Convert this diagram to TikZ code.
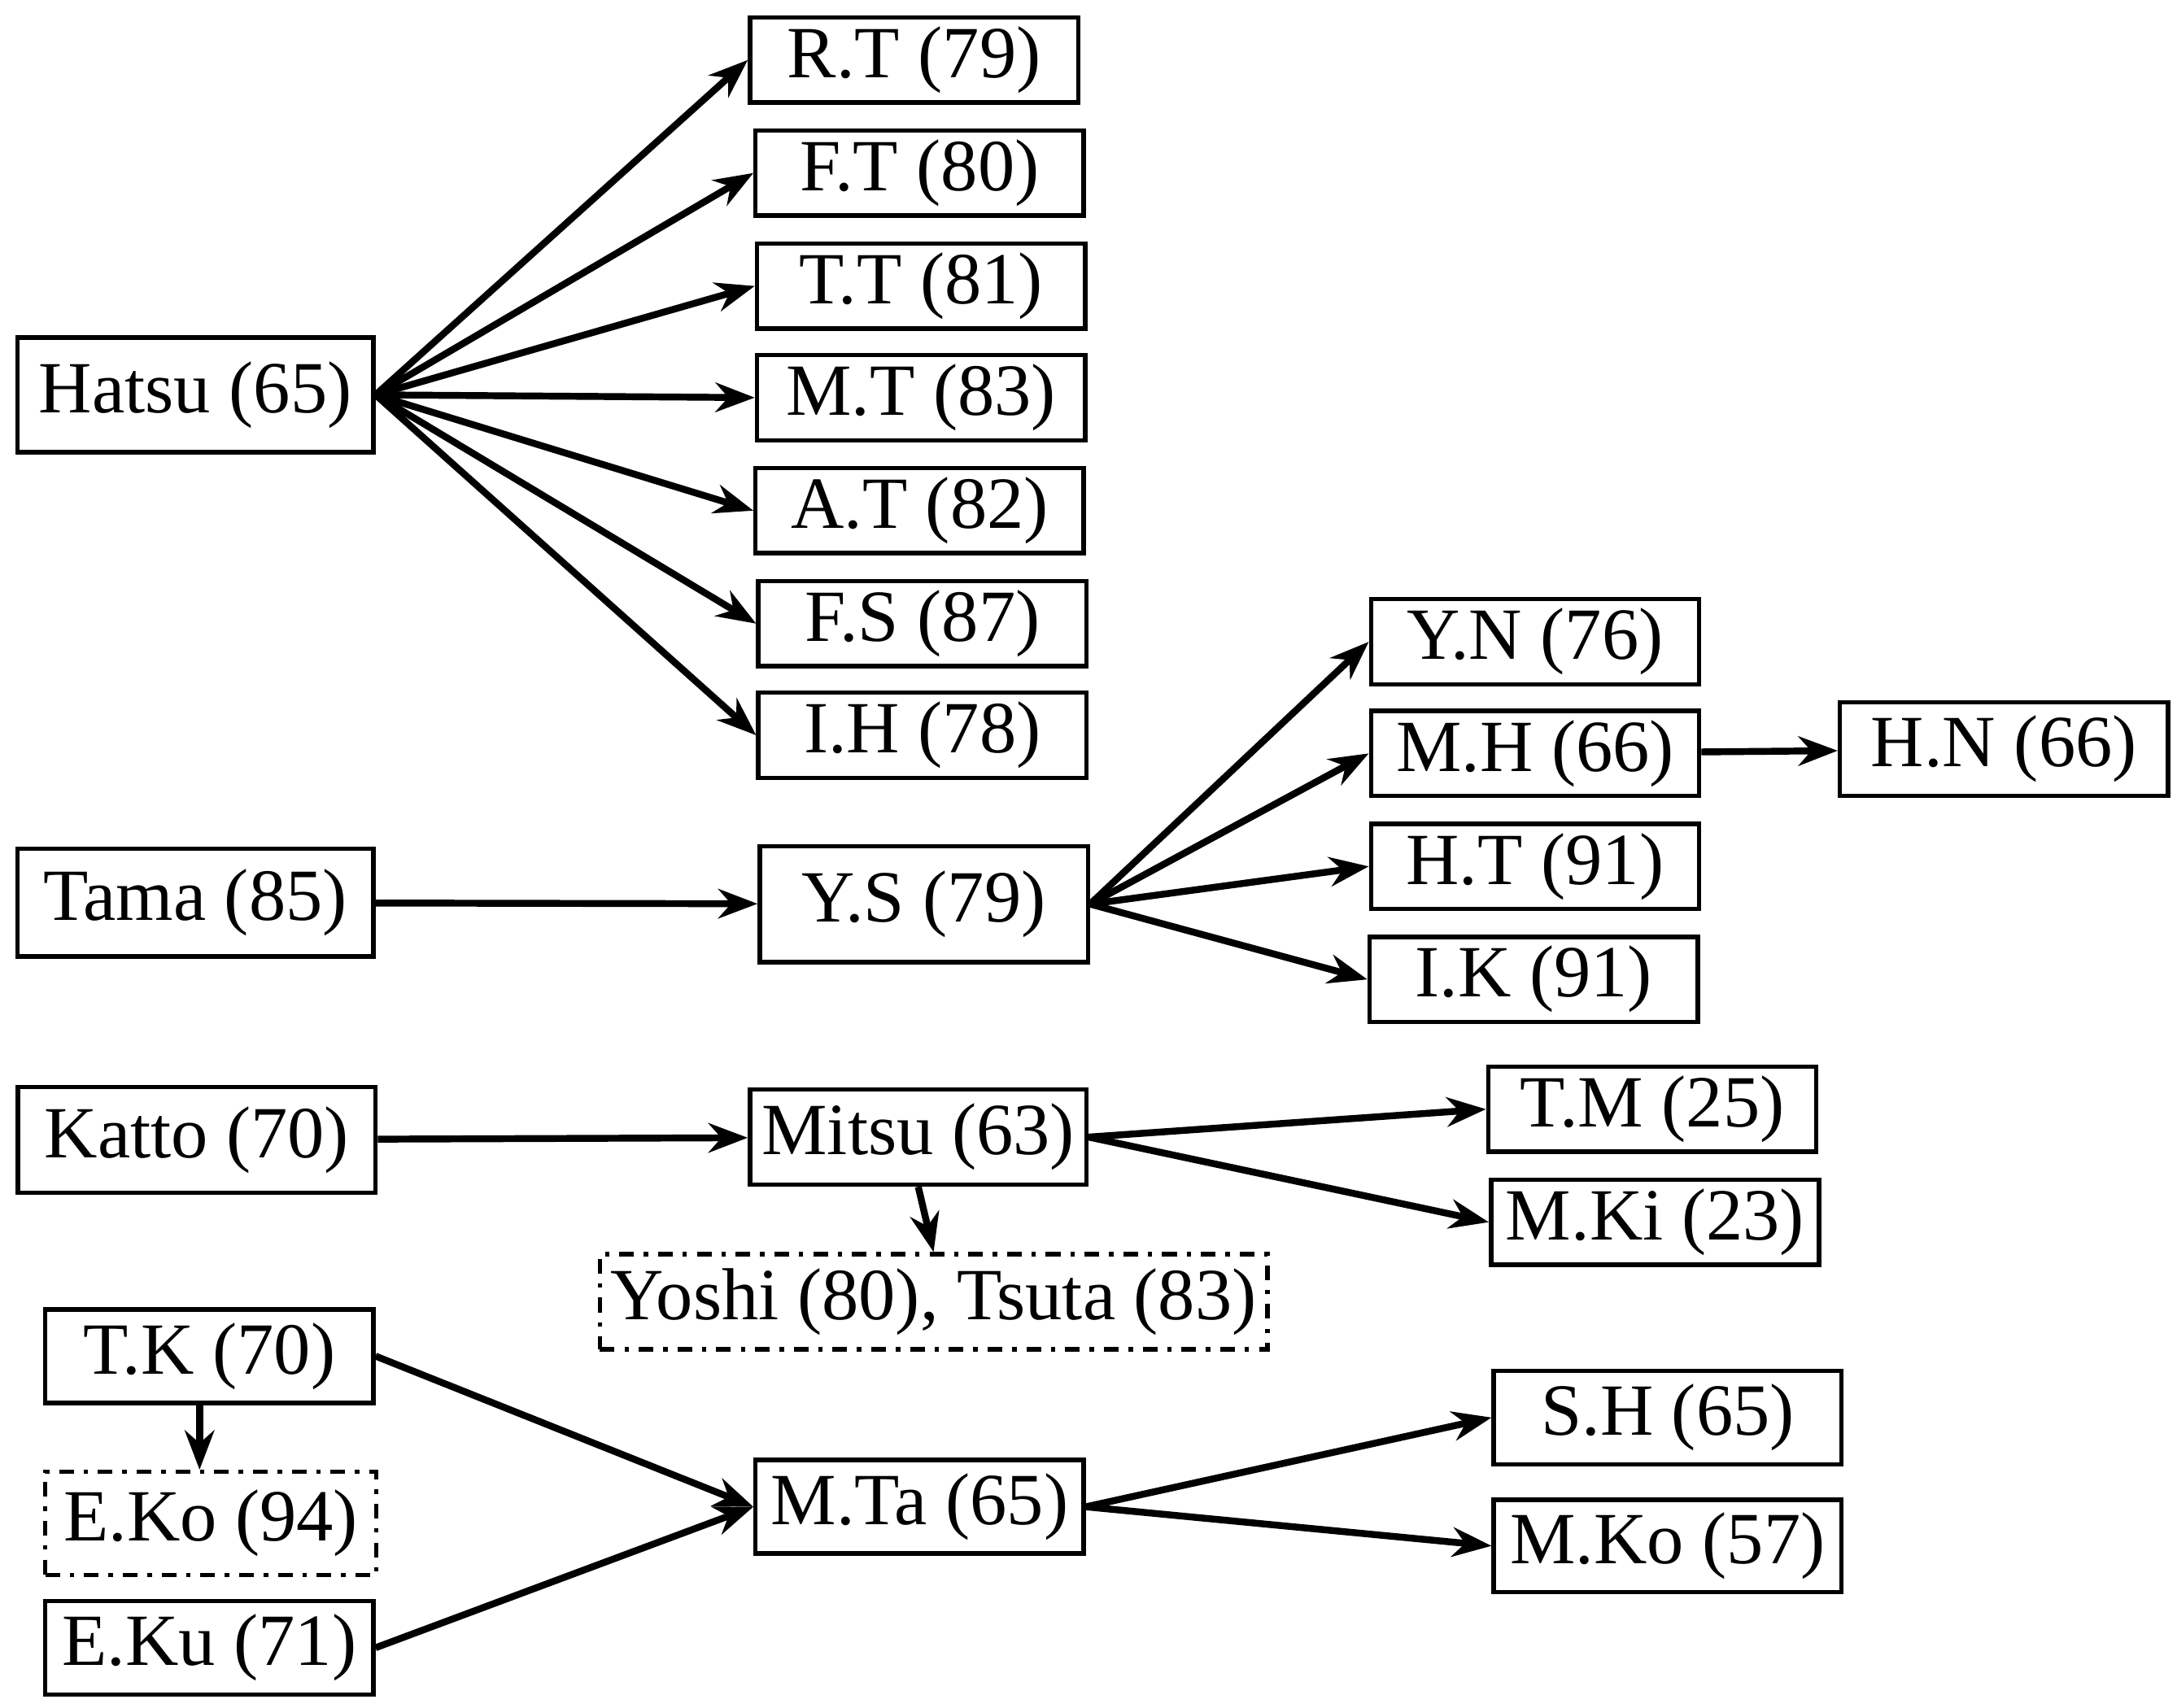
\documentclass[tikz,border=0pt]{standalone}
\usepackage{fontspec}
\setmainfont{Liberation Serif}
\usetikzlibrary{arrows.meta}
\begin{document}
\begin{tikzpicture}[x=0.01cm, y=-0.01cm, person/.style={draw=black, line width=0.9pt, minimum width=2.35cm, minimum height=0.61cm, inner sep=0pt, font=\fontsize{15}{15}\selectfont}, unsure/.style={person, dash dot}, link/.style={-{Stealth[length=8pt,width=6pt]}, line width=1.4pt}]
\useasboundingbox (0,0) rectangle (1560,1224);

\node[person, minimum width=2.55cm, minimum height=0.82cm] (hatsu) at (140,283) {Hatsu (65)};
\node[person] (rt) at (655,43) {R.T (79)};
\node[person] (ft) at (659,124) {F.T (80)};
\node[person] (tt) at (660,205) {T.T (81)};
\node[person] (mt) at (660,285) {M.T (83)};
\node[person] (at) at (659,366) {A.T (82)};
\node[person] (fs) at (661,447) {F.S (87)};
\node[person] (ih) at (661,527) {I.H (78)};
\node[person, minimum width=2.55cm, minimum height=0.77cm] (tama) at (140,647) {Tama (85)};
\node[person, minimum height=0.83cm] (ys) at (662,648) {Y.S (79)};
\node[person] (yn) at (1100,460) {Y.N (76)};
\node[person] (mh) at (1100,540) {M.H (66)};
\node[person, minimum height=0.67cm] (hn) at (1436,537) {H.N (66)};
\node[person] (ht) at (1100,621) {H.T (91)};
\node[person] (ik) at (1099,702) {I.K (91)};
\node[person, minimum width=2.56cm, minimum height=0.76cm] (katto) at (141,817) {Katto (70)};
\node[person, minimum width=2.41cm, minimum height=0.68cm] (mitsu) at (658,815) {Mitsu (63)};
\node[person] (tm) at (1184,795) {T.M (25)};
\node[person] (mki) at (1186,876) {M.Ki (23)};
\node[unsure, minimum width=4.78cm, minimum height=0.68cm] (yoshi) at (669,933) {Yoshi (80), Tsuta (83)};
\node[person, minimum height=0.67cm] (tk) at (150,972) {T.K (70)};
\node[unsure, minimum width=2.37cm, minimum height=0.74cm] (eko) at (151,1092) {E.Ko (94)};
\node[person, minimum height=0.67cm] (eku) at (150,1181) {E.Ku (71)};
\node[person, minimum height=0.67cm] (mta) at (659,1080) {M.Ta (65)};
\node[person, minimum width=2.49cm, minimum height=0.67cm] (sh) at (1195,1016) {S.H (65)};
\node[person, minimum width=2.49cm, minimum height=0.66cm] (mko) at (1195,1108) {M.Ko (57)};

\foreach \kid in {rt,ft,tt,mt,at,fs,ih}
  \draw[link] (hatsu.east) -- (\kid.west);
\draw[link] (tama) -- (ys);
\foreach \kid in {yn,mh,ht,ik}
  \draw[link] (ys.east) -- (\kid.west);
\draw[link] (mh) -- (hn);
\draw[link] (katto) -- (mitsu);
\draw[link] (mitsu.east) -- (tm.west);
\draw[link] (mitsu.east) -- (mki.west);
\draw[link] (mitsu.south) -- (yoshi.north);
\draw[link] ([xshift=-0.07cm]tk.south) -- ([xshift=-0.08cm]eko.north);
\draw[link] (tk.east) -- (mta.west);
\draw[link] (eku.east) -- (mta.west);
\draw[link] (mta.east) -- (sh.west);
\draw[link] (mta.east) -- (mko.west);

\end{tikzpicture}
\end{document}
